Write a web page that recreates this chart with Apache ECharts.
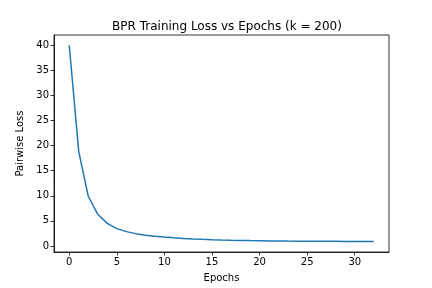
<!DOCTYPE html>
<html><head><meta charset="utf-8">
<script src="https://cdn.jsdelivr.net/npm/echarts@6/dist/echarts.min.js"></script>
<style>html,body{margin:0;padding:0;background:#fff}#c{width:432px;height:288px}</style>
</head><body><div id="c"></div>
<script>
const epochs = [0,1,2,3,4,5,6,7,8,9,10,11,12,13,14,15,16,17,18,19,20,21,22,23,24,25,26,27,28,29,30,31,32];
const loss = [40.0,18.8,9.9,6.3,4.5,3.45,2.85,2.45,2.15,1.95,1.78,1.62,1.5,1.4,1.32,1.25,1.19,1.14,1.1,1.06,1.03,1.0,0.98,0.96,0.95,0.94,0.93,0.92,0.91,0.9,0.9,0.89,0.88];
const xTicks = [0,5,10,15,20,25,30];
const yTicks = [0,5,10,15,20,25,30,35,40];
const titleText = 'BPR Training Loss vs Epochs (k = 200)';
const xName = 'Epochs';
const yName = 'Pairwise Loss';

const font = 'DejaVu Sans';
const chart = echarts.init(document.getElementById('c'), null, {renderer:'canvas'});
chart.setOption({
  animation:false,
  title:{text:titleText,left:222,top:16,textAlign:'center',textStyle:{fontFamily:font,fontSize:12,fontWeight:'normal',color:'#000'}},
  grid:{left:54,right:43,top:35,bottom:35,show:true,borderColor:'#000',borderWidth:0.8,backgroundColor:'#fff'},
  xAxis:{type:'value',min:-1.6,max:33.6,name:xName,nameLocation:'middle',nameGap:21,
    nameTextStyle:{fontFamily:font,fontSize:10,color:'#000'},
    splitLine:{show:false},
    axisLine:{show:true,onZero:false,lineStyle:{color:'#000',width:0.8}},
    axisTick:{show:true,length:3.5,customValues:xTicks,lineStyle:{color:'#000',width:0.8}},
    axisLabel:{customValues:xTicks,fontFamily:font,fontSize:10,color:'#000',margin:5}},
  yAxis:{type:'value',min:-1.21,max:42.04,name:yName,nameLocation:'middle',nameGap:26,
    nameTextStyle:{fontFamily:font,fontSize:10,color:'#000'},
    splitLine:{show:false},
    axisLine:{show:true,onZero:false,lineStyle:{color:'#000',width:0.8}},
    axisTick:{show:true,length:3.5,customValues:yTicks,lineStyle:{color:'#000',width:0.8}},
    axisLabel:{customValues:yTicks,fontFamily:font,fontSize:10,color:'#000',margin:5}},
  series:[{type:'line',data:epochs.map((e,i)=>[e,loss[i]]),showSymbol:false,
    lineStyle:{color:'#1f77b4',width:1.5},itemStyle:{color:'#1f77b4'}}]
});
</script></body></html>
